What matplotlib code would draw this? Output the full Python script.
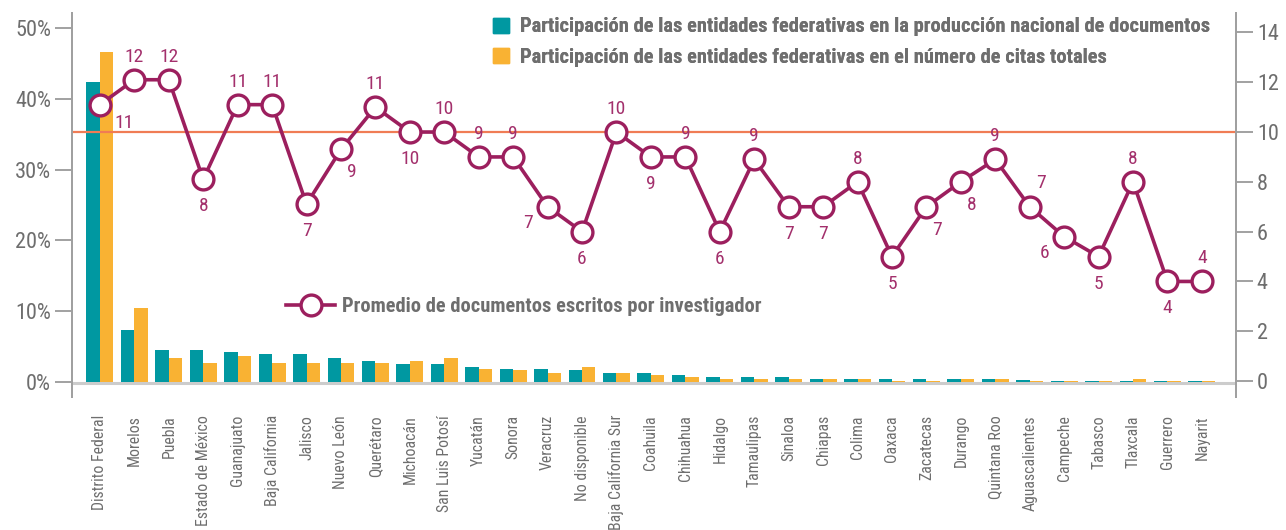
import matplotlib
matplotlib.use("Agg")
import matplotlib.pyplot as plt
from matplotlib import font_manager
from matplotlib.lines import Line2D
from matplotlib.patches import Patch
import numpy as np

# pick a condensed family (the original uses a condensed sans)
disponibles = {f.name for f in font_manager.fontManager.ttflist}
candidatas = ["Roboto Condensed", "Open Sans Condensed", "PT Sans Narrow", "Archivo Narrow",
              "Sofia Sans Condensed", "Liberation Sans Narrow"]
fuente = next((c for c in candidatas if c in disponibles), "DejaVu Sans")
plt.rcParams['font.family'] = [fuente, 'DejaVu Sans']

estados = ["Distrito Federal", "Morelos", "Puebla", "Estado de México", "Guanajuato",
           "Baja California", "Jalisco", "Nuevo León", "Querétaro", "Michoacán",
           "San Luis Potosí", "Yucatán", "Sonora", "Veracruz", "No disponible",
           "Baja California Sur", "Coahuila", "Chihuahua", "Hidalgo", "Tamaulipas",
           "Sinaloa", "Chiapas", "Colima", "Oaxaca", "Zacatecas", "Durango",
           "Quintana Roo", "Aguascalientes", "Campeche", "Tabasco", "Tlaxcala",
           "Guerrero", "Nayarit"]

# % produccion nacional de documentos
produccion = [42.4, 7.3, 4.5, 4.5, 4.2, 3.9, 3.9, 3.3, 3.0, 2.5, 2.5, 2.1, 1.8, 1.8, 1.6,
              1.3, 1.3, 1.0, 0.7, 0.7, 0.7, 0.4, 0.4, 0.4, 0.4, 0.4, 0.4, 0.2, 0.15,
              0.15, 0.15, 0.15, 0.15]
# % citas totales
citas = [46.7, 10.4, 3.3, 2.7, 3.6, 2.7, 2.7, 2.7, 2.7, 3.0, 3.3, 1.8, 1.6, 1.3, 2.1,
         1.3, 1.0, 0.7, 0.4, 0.4, 0.4, 0.4, 0.4, 0.15, 0.15, 0.4, 0.4, 0.15, 0.1,
         0.1, 0.4, 0.1, 0.1]
# promedio de documentos por investigador
promedio = [11.1, 12.1, 12.1, 8.1, 11.1, 11.1, 7.1, 9.3, 11.0, 10.0, 10.0, 9.0, 9.0,
            7.0, 6.0, 10.0, 9.0, 9.0, 6.0, 8.9, 7.0, 7.0, 8.0, 5.0, 7.0, 8.0, 8.9,
            7.0, 5.8, 5.0, 8.0, 4.0, 4.0]
promedio_nacional = 10
# label placement: a=above, b=below, br=below-right, bl=below-left, ar=above-right
pos_etiqueta = ["df", "a", "a", "b", "a", "a", "b", "br", "a", "b", "a", "a", "a",
                "bl", "b", "a", "b", "a", "b", "a", "b", "b", "a", "b", "br", "br",
                "a", "ar", "bl", "b", "a", "b", "a"]

teal = "#0098a1"
naranja = "#f9b233"
vino = "#9c1f5e"
gris = "#6e6e6e"

fig = plt.figure(figsize=(12.86, 5.3), dpi=100)
ax = fig.add_axes([72 / 1286, 1 - 397 / 530, (1236 - 72) / 1286, 384 / 530])
ax2 = ax.twinx()

x = np.arange(len(estados))
w = 0.39
ax.bar(x - w / 2, produccion, w, color=teal, zorder=2)
ax.bar(x + w / 2, citas, w, color=naranja, zorder=2)
ax.axhline(-0.15, color="#cccccc", lw=2.2, zorder=1)

ax.set_xlim(-0.81, len(estados) - 1 + 0.99)
ax.set_ylim(-2.16, 52.15)
ax.set_yticks([0, 10, 20, 30, 40, 50])
ax.set_yticklabels(["0%", "10%", "20%", "30%", "40%", "50%"])
ax.set_xticks(x)
ax.set_xticklabels(estados, rotation=90, fontsize=11.3, color=gris)
ax.tick_params(axis="x", length=0, pad=13)
ax.tick_params(axis="y", length=12, width=1.3, color="#9a9a9a", labelsize=16,
               labelcolor=gris, pad=3)

ax2.set_ylim(-0.64, 14.78)
ax2.set_yticks([0, 2, 4, 6, 8, 10, 12, 14])
ax2.tick_params(axis="y", length=12, width=1.3, color="#9a9a9a", labelsize=16,
                labelcolor=gris, pad=3)
ax2.axhline(promedio_nacional, color="#f07c55", lw=1.6, zorder=1)
ax2.plot(x, promedio, color=vino, lw=2.6, marker="o", ms=15, mfc="white",
         mec=vino, mew=2.4, zorder=4)

# offsets in pixels
offsets = {"a": (0, 23), "b": (0, -27), "br": (11, -23), "bl": (-20, -16),
           "ar": (11, 24), "df": (24, -18)}
for xi, v, p in zip(x, promedio, pos_etiqueta):
    dx, dy = offsets[p]
    ax2.annotate(str(int(round(v))), (xi, v), xytext=(dx, dy), textcoords="offset pixels",
                 ha="center", va="center", fontsize=14, color="#a3306c")

for a in (ax, ax2):
    for s in ("top", "bottom"):
        a.spines[s].set_visible(False)
    for s in ("left", "right"):
        a.spines[s].set_color("#a0a0a0")
        a.spines[s].set_linewidth(1.4)

h_barras = [Patch(color=teal), Patch(color=naranja)]
leg1 = ax.legend(h_barras,
                 ["Participación de las entidades federativas en la producción nacional de documentos",
                  "Participación de las entidades federativas en el número de citas totales"],
                 loc="upper left", bbox_to_anchor=(0.346, 1.037), frameon=False,
                 handlelength=0.75, handleheight=0.75, handletextpad=0.55, labelspacing=0.55,
                 prop={"weight": "bold", "size": 14.8})
for t in leg1.get_texts():
    t.set_color(gris)
ax.add_artist(leg1)

h_linea = [Line2D([], [], color=vino, lw=2.6, marker="o", ms=15, mfc="white", mec=vino, mew=2.4)]
leg2 = ax2.legend(h_linea, ["Promedio de documentos escritos por investigador"],
                  loc="center left", bbox_to_anchor=(0.168, 0.235), frameon=False,
                  handlelength=2.4, handletextpad=0.3, prop={"weight": "bold", "size": 14.8})
for t in leg2.get_texts():
    t.set_color(gris)

fig.savefig("out.png", dpi=100)
